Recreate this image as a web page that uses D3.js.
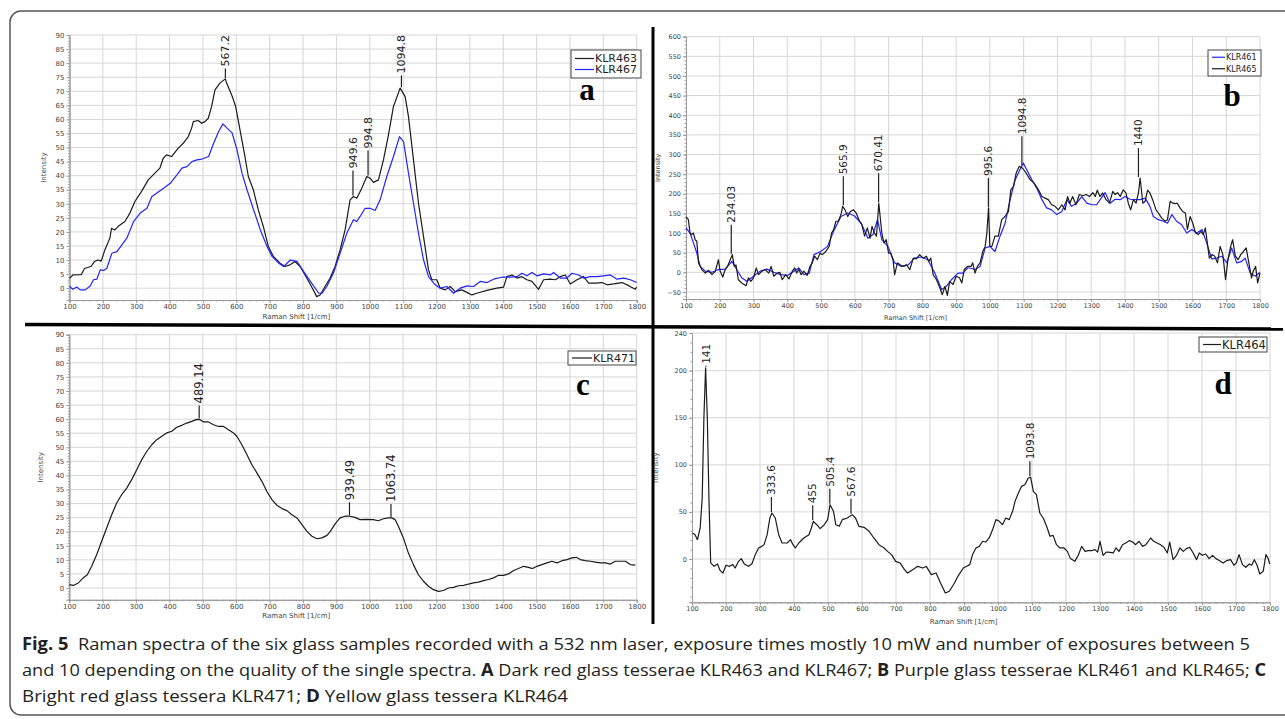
<!DOCTYPE html>
<html>
<head>
<meta charset="utf-8">
<script src="https://cdn.jsdelivr.net/npm/d3@7"></script>
<style>
  body { margin:0; background:#fff; }
  svg { display:block; }
  .tick-lbl { font-family:"DejaVu Sans", sans-serif; fill:#444; }
  .axis-title { font-family:"DejaVu Sans", sans-serif; fill:#444; }
  .peak-lbl { font-family:"DejaVu Sans", sans-serif; fill:#222; }
  .legend-lbl { font-family:"DejaVu Sans", sans-serif; fill:#222; }
  .panel-letter { font-family:"Liberation Serif", "DejaVu Serif", serif; font-weight:bold; fill:#000; }
  .caption { font-family:"Open Sans", "Noto Sans", sans-serif; fill:#231f20; }
</style>
</head>
<body>
<svg id="fig" width="1285" height="719"></svg>
<script>

// ---- data (Raman shift [1/cm], intensity) ----
var klr463 = [[100,3.5],[110,4.7],[135,4.8],[145,7],[165,7.8],[175,9.5],[185,10],[195,9.6],[206,13.6],[221,17.8],[226,21.3],[236,20.7],[246,22],[266,23.7],[281,26.7],[296,30.8],[316,34.4],[336,38.5],[356,40.9],[371,42.7],[381,46.2],[391,47.4],[406,46.8],[426,49.8],[441,51.5],[456,53.9],[466,56.9],[471,59.2],[486,59.6],[496,58.6],[506,59.2],[516,60.4],[526,64.6],[536,70.5],[551,72.9],[567,74.4],[571,72.9],[586,68.7],[598,64.6],[611,56.3],[624,48],[636,39.7],[651,35],[666,27.8],[681,21.9],[696,14.8],[711,11.3],[731,8.9],[746,7.7],[761,8.3],[776,9.5],[791,7.7],[806,4.7],[826,0.4],[841,-3],[851,-2.4],[866,0.6],[881,3.6],[896,7.7],[911,13.6],[926,20.7],[941,31.4],[951,32.6],[961,32],[976,35.5],[991,39.7],[1001,39.1],[1011,37.6],[1026,38.5],[1041,45.6],[1056,54.5],[1071,64.6],[1091,71.1],[1106,68.1],[1116,61],[1131,45.6],[1146,30.2],[1161,18.4],[1176,6.5],[1186,3],[1201,3],[1211,0],[1226,-0.6],[1241,0.6],[1256,-1.2],[1276,-0.6],[1291,-1.5],[1306,-2.4],[1321,-1.8],[1351,-0.8],[1381,0],[1401,0.4],[1411,4.1],[1426,4.7],[1441,3.6],[1456,4.1],[1471,3],[1486,2.4],[1506,-0.4],[1521,3],[1541,3.2],[1556,3],[1571,4.1],[1586,4.7],[1601,1.5],[1621,3],[1641,4.1],[1656,1.8],[1676,1.8],[1696,2],[1711,1.2],[1731,1.5],[1756,2],[1776,0.9],[1796,-0.4],[1800,0.4]];

var klr467 = [[100,0.6],[110,-0.4],[122,0.4],[132,-0.6],[147,-0.6],[162,0.8],[172,3],[182,3.2],[192,6.5],[202,6.3],[212,7.1],[227,12.4],[242,13],[257,15.4],[272,17.8],[292,23.7],[312,26.7],[332,28.4],[347,32.6],[362,33.8],[382,35.5],[402,37.3],[422,40.3],[437,42.7],[452,43.2],[467,45],[482,45.6],[497,45.9],[517,46.8],[532,51.5],[547,55.7],[560,58.4],[572,56.9],[587,55.3],[602,49.2],[617,40.9],[632,35],[652,27.8],[672,20.7],[692,14.8],[707,11.3],[727,8.9],[742,7.7],[762,10],[782,9.5],[802,5.9],[822,2.4],[847,-1.8],[857,-1.8],[871,0.6],[891,5.3],[911,12.4],[931,19.5],[951,24.3],[961,23.7],[971,25.5],[986,28.4],[1001,28.4],[1016,27.6],[1031,31.4],[1051,39.7],[1071,46.8],[1089,53.9],[1101,52.1],[1116,40.9],[1131,30.2],[1146,19.5],[1161,10.1],[1176,4.1],[1196,1.2],[1211,0],[1231,0.6],[1251,-1.8],[1271,0],[1291,0.8],[1311,0.6],[1331,2.4],[1351,2],[1371,3.2],[1396,3.9],[1421,3.9],[1441,4.1],[1456,5.3],[1471,4.4],[1486,5.6],[1501,4.4],[1521,5.1],[1541,4.7],[1551,5.6],[1571,3.6],[1591,3.6],[1606,5.3],[1626,4.7],[1641,3.6],[1661,4.1],[1681,4.1],[1701,4.4],[1721,4.7],[1741,3.2],[1761,3.6],[1781,3],[1800,2]];

var klr461 = [[100,113],[112,100],[122,75],[132,49],[142,15],[157,3],[177,0],[196,7],[216,8],[236,28],[250,7],[265,-14],[280,-23],[300,-10],[320,3],[340,8],[360,0],[380,-6],[400,-8],[420,3],[434,11],[449,-6],[465,-2],[479,45],[499,53],[519,66],[539,108],[559,142],[579,151],[598,144],[619,125],[639,87],[654,96],[667,134],[680,83],[698,66],[718,24],[738,15],[758,19],[777,36],[797,39],[816,32],[837,-2],[857,-44],[871,-36],[886,-19],[906,-2],[920,-2],[934,11],[941,11],[956,7],[971,15],[986,62],[1000,66],[1015,53],[1030,92],[1045,125],[1060,185],[1075,236],[1089,261],[1099,278],[1109,261],[1124,236],[1139,214],[1154,185],[1168,164],[1183,159],[1198,147],[1213,155],[1228,185],[1242,168],[1257,176],[1272,193],[1287,176],[1302,172],[1316,172],[1331,190],[1341,203],[1356,176],[1371,186],[1386,185],[1400,193],[1415,186],[1430,185],[1445,185],[1460,189],[1474,168],[1484,142],[1499,134],[1514,130],[1526,125],[1539,147],[1553,130],[1568,121],[1583,100],[1598,109],[1613,100],[1628,109],[1642,75],[1657,34],[1672,36],[1687,41],[1702,24],[1716,62],[1731,24],[1746,28],[1756,36],[1771,-2],[1786,-10],[1800,0]];

var klr465 = [[100,142],[107,134],[112,100],[117,96],[122,100],[127,83],[132,79],[137,24],[147,7],[157,-2],[167,5],[177,-6],[187,3],[196,32],[201,3],[209,-12],[216,7],[223,15],[231,32],[237,45],[243,15],[248,19],[255,-19],[265,-27],[278,-34],[285,-14],[292,-23],[300,-14],[308,11],[315,-6],[325,3],[335,7],[345,-2],[352,15],[360,-10],[370,-2],[378,0],[385,-19],[395,-6],[405,-17],[415,3],[422,11],[428,-2],[434,8],[441,-6],[449,3],[459,-8],[467,15],[474,24],[481,41],[489,32],[497,49],[504,45],[514,53],[524,66],[531,100],[537,108],[544,130],[551,130],[559,147],[564,168],[571,159],[579,142],[587,155],[596,159],[604,151],[614,130],[621,121],[629,92],[637,113],[645,87],[651,117],[658,100],[664,92],[671,176],[680,100],[686,75],[693,83],[700,49],[706,49],[713,32],[718,-6],[726,24],[734,19],[743,15],[753,19],[763,7],[773,36],[782,34],[792,45],[802,36],[812,41],[819,28],[825,36],[832,-6],[842,-19],[852,-40],[859,-57],[867,-36],[874,-59],[881,-23],[891,-31],[900,-10],[910,-14],[917,-27],[924,7],[934,15],[944,15],[949,24],[956,-2],[963,15],[971,24],[979,53],[986,66],[991,100],[996,164],[1000,66],[1006,66],[1015,92],[1025,92],[1035,134],[1045,142],[1055,155],[1062,210],[1070,219],[1078,253],[1087,270],[1097,265],[1107,253],[1119,236],[1131,227],[1144,210],[1154,193],[1163,189],[1173,185],[1183,172],[1193,168],[1203,159],[1213,172],[1223,159],[1230,193],[1237,176],[1245,193],[1255,172],[1265,198],[1275,195],[1285,198],[1295,193],[1305,203],[1312,193],[1318,209],[1326,193],[1334,202],[1344,185],[1354,176],[1364,206],[1371,198],[1378,203],[1386,193],[1395,210],[1403,202],[1410,176],[1417,159],[1425,185],[1433,176],[1440,202],[1445,240],[1453,176],[1460,181],[1467,209],[1474,202],[1482,185],[1492,159],[1499,151],[1509,138],[1519,130],[1526,134],[1534,181],[1542,176],[1549,175],[1555,176],[1563,164],[1571,155],[1579,151],[1585,109],[1593,142],[1601,125],[1609,100],[1617,96],[1625,104],[1632,96],[1638,113],[1644,75],[1650,36],[1658,45],[1666,41],[1674,24],[1682,66],[1690,45],[1698,-19],[1705,32],[1713,66],[1719,83],[1727,41],[1735,32],[1743,45],[1751,53],[1759,62],[1767,24],[1775,-14],[1780,3],[1787,15],[1793,-27],[1800,-2]];

var klr471 = [[100,1.2],[112,0.9],[127,1.8],[142,3.6],[154,4.7],[167,7.7],[182,11.8],[197,16.6],[212,21.3],[227,26],[242,30.2],[257,33.2],[272,35.5],[287,38.5],[302,42],[317,45.6],[332,48.5],[347,50.9],[362,52.7],[377,53.9],[392,55.1],[407,55.7],[422,57.1],[437,57.8],[452,58.6],[467,59.2],[482,59.9],[492,59.8],[502,59],[517,59],[532,58],[547,57.4],[562,57.4],[577,56.2],[592,55.1],[602,53.9],[617,50.9],[632,47.4],[647,43.8],[662,40.9],[677,37.9],[692,34.3],[707,31.4],[722,29.4],[737,28.2],[752,27.5],[767,26],[782,24.9],[797,22.5],[812,20.1],[827,18.4],[842,17.5],[857,17.8],[872,18.7],[882,20.1],[896,22.7],[911,24.9],[926,25.5],[941,25.5],[956,25.1],[971,24.3],[991,24.4],[1011,24.3],[1026,23.9],[1041,24.6],[1056,24.9],[1066,24.9],[1076,24.3],[1086,21.9],[1101,17.8],[1116,12.4],[1131,8.3],[1146,4.7],[1161,2.4],[1176,0.6],[1191,-0.6],[1206,-1.2],[1221,-0.9],[1236,0],[1251,0.2],[1266,0.8],[1281,0.9],[1296,1.4],[1311,1.8],[1326,2.1],[1341,2.6],[1356,3],[1371,3.6],[1386,4.5],[1401,4.5],[1416,5],[1431,6.2],[1446,6.9],[1461,7.7],[1476,7.3],[1488,6.9],[1501,7.7],[1516,8.3],[1531,8.9],[1546,9.5],[1561,8.9],[1576,9.7],[1591,10.1],[1606,10.7],[1619,10.9],[1631,10.1],[1646,9.7],[1661,9.5],[1676,9.2],[1691,8.9],[1706,8.9],[1721,8.5],[1736,9.5],[1751,9.5],[1766,9.5],[1781,8.3],[1796,8.1]];

var klr464 = [[102,27.6],[109,25.8],[116,20.5],[124,32.9],[130,64.8],[135,150],[140,203],[145,150],[150,61],[155,-4.2],[165,-7.8],[175,-5.3],[183,-12.4],[191,-14.9],[200,-6.7],[210,-7.8],[220,-6],[227,-9.6],[237,-2.5],[245,0.4],[254,-5.3],[266,-7.8],[276,-5.3],[286,4.6],[296,11.7],[305,13.4],[312,15.2],[321,25.8],[329,43.5],[335,48.8],[345,43.5],[355,25.8],[365,17],[380,17],[390,20.5],[397,15.2],[404,11.7],[414,17],[429,22.3],[444,25.8],[451,32.9],[457,40],[467,36.4],[477,32.2],[489,36.4],[499,41.8],[506,57.7],[516,50.6],[523,36.4],[533,34.7],[542,41.8],[557,43.5],[571,47.1],[581,43.5],[591,34.7],[606,33.6],[621,29.4],[635,22.3],[650,15.2],[665,11.7],[675,8.1],[687,4.6],[699,-2.5],[712,-4.2],[725,-11.3],[734,-14.9],[749,-11.3],[764,-7.8],[779,-9.6],[789,-7.8],[804,-16.6],[818,-14.9],[831,-25.5],[845,-36.1],[857,-34.3],[872,-25.5],[882,-18.4],[890,-14],[898,-9.6],[908,-7.8],[917,-6],[925,4.6],[935,11.7],[945,13.4],[955,18.8],[964,18],[974,22.3],[984,31.1],[994,41.8],[1004,40],[1013,36.4],[1023,43.5],[1033,41.8],[1043,50.6],[1050,61.2],[1060,70.1],[1069,77.1],[1079,78.9],[1089,86],[1096,86.7],[1104,71.8],[1113,68.3],[1123,48.8],[1133,43.5],[1143,34.7],[1153,24.1],[1162,25.1],[1172,15.2],[1182,11.7],[1194,11.7],[1204,8.1],[1213,0.4],[1226,-2.5],[1236,3.9],[1246,13.4],[1256,8.1],[1265,8.8],[1275,8.8],[1285,9.9],[1293,7.4],[1300,18.8],[1309,3.9],[1319,7.4],[1329,7.1],[1339,6.4],[1347,11.7],[1356,8.1],[1366,15.2],[1376,17],[1386,19.5],[1396,18],[1405,15.2],[1415,18.8],[1425,13.4],[1435,15.2],[1449,22.3],[1458,18.8],[1468,17],[1478,15.2],[1488,12.4],[1498,6.4],[1505,18],[1515,-0.7],[1525,3.9],[1535,11.7],[1545,8.1],[1554,11],[1564,12.4],[1574,6.4],[1584,-0.7],[1592,6.4],[1601,3.9],[1611,5.3],[1621,0.4],[1631,3.9],[1641,0.4],[1652,-1.8],[1662,-4.2],[1672,-1.8],[1684,-0.7],[1694,-6.7],[1701,-4.2],[1709,4.6],[1719,-6],[1729,-8.8],[1739,-5.3],[1746,-6.7],[1754,-0.7],[1762,-6.7],[1770,-15.9],[1780,-13.1],[1788,4.6],[1794,1.1],[1799,-5.3]];

// peak labels
var peaksA = ['567.2', '949.6', '994.8', '1094.8'];
var peaksB = ['234.03', '565.9', '670.41', '995.6', '1094.8', '1440'];
var peaksC = ['489.14', '939.49', '1063.74'];
var peaksD = ['141', '333.6', '455', '505.4', '567.6', '1093.8'];

// tick values
var xTicks = [100,200,300,400,500,600,700,800,900,1000,1100,1200,1300,1400,1500,1600,1700,1800];
var yTicksAC = [0,5,10,15,20,25,30,35,40,45,50,55,60,65,70,75,80,85,90];
var yTicksB = [-50,0,50,100,150,200,250,300,350,400,450,500,550,600];
var yTicksD = [0,50,100,150,200,240];

var captionLines = [
	[['Fig. 5', true], ['  Raman spectra of the six glass samples recorded with a 532 nm laser, exposure times mostly 10 mW and number of exposures between 5', false]],
	[['and 10 depending on the quality of the single spectra. ', false], ['A', true], [' Dark red glass tesserae KLR463 and KLR467; ', false], ['B', true], [' Purple glass tesserae KLR461 and KLR465; ', false], ['C', true]],
	[['Bright red glass tessera KLR471; ', false], ['D', true], [' Yellow glass tessera KLR464', false]]
];

const strBlack = '#1b1b1b';
const strBlue = '#2323ff';

var sSvg = d3.select('#fig');

// outer frame
sSvg.append('rect')
	.attr('x', 10).attr('y', 11)
	.attr('width', 1290).attr('height', 704)
	.attr('rx', 11)
	.attr('fill', 'none')
	.attr('stroke', '#555')
	.attr('stroke-width', 1.5);

function DrawPanel(aProps)
{
	var scaleX = d3.scaleLinear().domain([100, 1800]).range([aProps.left, aProps.right]);
	var scaleY = d3.scaleLinear().domain(aProps.yDomain).range([aProps.bottom, aProps.top]);

	var sG = sSvg.append('g');

	// grid
	sG.append('g').selectAll('line')
		.data(xTicks.slice(1))
		.enter().append('line')
			.attr('x1', function(d) { return scaleX(d); })
			.attr('x2', function(d) { return scaleX(d); })
			.attr('y1', aProps.top).attr('y2', aProps.bottom)
			.attr('stroke', '#d6d6d6').attr('stroke-width', 1);

	sG.append('g').selectAll('line')
		.data(aProps.yTicks)
		.enter().append('line')
			.attr('x1', aProps.left).attr('x2', aProps.right)
			.attr('y1', function(d) { return scaleY(d); })
			.attr('y2', function(d) { return scaleY(d); })
			.attr('stroke', '#d6d6d6').attr('stroke-width', 1);

	// axes
	var axisY = d3.axisLeft(scaleY)
		.tickValues(aProps.yTicks)
		.tickFormat(d3.format('d'))
		.tickSize(3)
		.tickPadding(2);
	var axisYMinor = d3.axisLeft(scaleY)
		.tickValues(d3.range(Math.ceil(aProps.yDomain[0] / aProps.yMinor) * aProps.yMinor, aProps.yDomain[1] + 0.01, aProps.yMinor))
		.tickSize(1.5)
		.tickFormat('');
	var axisX = d3.axisBottom(scaleX)
		.tickValues(xTicks)
		.tickFormat(d3.format('d'))
		.tickSize(3)
		.tickPadding(1);
	var axisXMinor = d3.axisBottom(scaleX)
		.tickValues(d3.range(100, 1801, 20))
		.tickSize(1.5)
		.tickFormat('');

	[[axisYMinor, 'translate(' + aProps.left + ',0)'], [axisY, 'translate(' + aProps.left + ',0)'],
	 [axisXMinor, 'translate(0,' + aProps.bottom + ')'], [axisX, 'translate(0,' + aProps.bottom + ')']].forEach(function(a)
	{
		var sAxis = sG.append('g').attr('transform', a[1]).call(a[0]);
		sAxis.select('.domain').attr('stroke', '#9a9a9a');
		sAxis.selectAll('.tick line').attr('stroke', '#9a9a9a');
		sAxis.selectAll('.tick text')
			.attr('class', 'tick-lbl')
			.style('font-size', aProps.tickFont + 'px');
	});

	// axis titles
	sG.append('text')
		.attr('class', 'axis-title')
		.attr('transform', 'translate(' + (aProps.left - aProps.yTitleOffset) + ',' + ((aProps.top + aProps.bottom) / 2) + ') rotate(-90)')
		.attr('text-anchor', 'middle')
		.style('font-size', aProps.titleFont + 'px')
		.text('Intensity');

	sG.append('text')
		.attr('class', 'axis-title')
		.attr('x', aProps.left + (aProps.right - aProps.left) * aProps.xTitleFrac)
		.attr('y', aProps.bottom + aProps.xTitleOffset)
		.attr('text-anchor', 'middle')
		.style('font-size', aProps.titleFont + 'px')
		.text('Raman Shift [1/cm]');

	// spectra
	var line = d3.line()
		.x(function(p) { return scaleX(p[0]); })
		.y(function(p) { return scaleY(p[1]); });

	aProps.series.forEach(function(aSeries)
	{
		sG.append('path')
			.datum(aSeries.data)
			.attr('d', line)
			.attr('fill', 'none')
			.attr('stroke', aSeries.color)
			.attr('stroke-width', 1.2)
			.attr('stroke-linejoin', 'round');
	});

	// peak markers
	var aPeakData = aProps.peaks.map(function(strLabel)
	{
		var fShift = +strLabel;
		var fMax = d3.max(aProps.peakSeries.filter(function(p) { return Math.abs(p[0] - fShift) <= 9; }), function(p) { return p[1]; });
		return { label: strLabel, x: scaleX(fShift), y: scaleY(fMax) };
	});

	aPeakData.forEach(function(peak)
	{
		var sText = sG.append('text')
			.attr('class', 'peak-lbl')
			.style('font-size', aProps.peakFont + 'px')
			.attr('text-anchor', 'start')
			.attr('dy', '0.36em')
			.text(peak.label);
		var nLen = sText.node().getComputedTextLength();
		var nStem = aProps.stem;
		if (peak.y - 1 - nStem - 2 - nLen < aProps.labelTop)
		{
			nStem = Math.max(1, peak.y - 1 - 2 - nLen - aProps.labelTop);
		}
		var nTextY = peak.y - 1 - nStem - 2;
		sText.attr('transform', 'translate(' + peak.x + ',' + nTextY + ') rotate(-90)');
		sG.append('line')
			.attr('x1', peak.x).attr('x2', peak.x)
			.attr('y1', peak.y - 1).attr('y2', peak.y - 1 - nStem)
			.attr('stroke', '#222').attr('stroke-width', 1.2);
	});

	// legend
	var lg = aProps.legend;
	sG.append('rect')
		.attr('x', lg.x).attr('y', lg.y)
		.attr('width', lg.w).attr('height', lg.rowH * lg.items.length + lg.pad)
		.attr('fill', '#fff').attr('stroke', '#444').attr('stroke-width', 1);
	lg.items.forEach(function(item, i)
	{
		var nY = lg.y + lg.pad / 2 + lg.rowH * (i + 0.5);
		sG.append('line')
			.attr('x1', lg.x + lg.lineX0).attr('x2', lg.x + lg.lineX1)
			.attr('y1', nY).attr('y2', nY)
			.attr('stroke', item.color).attr('stroke-width', 1.2);
		sG.append('text')
			.attr('class', 'legend-lbl')
			.attr('x', lg.x + lg.lineX1 + 1).attr('y', nY)
			.attr('dy', '0.36em')
			.style('font-size', lg.font + 'px')
			.text(item.name);
	});

	// panel letter
	sG.append('text')
		.attr('class', 'panel-letter')
		.attr('x', aProps.letterX).attr('y', aProps.letterY)
		.attr('text-anchor', 'middle')
		.style('font-size', '31px')
		.text(aProps.letter);
}

DrawPanel({
	left: 69.5, right: 636.7, top: 35, bottom: 300,
	yDomain: [-4.2, 90], yTicks: yTicksAC, yMinor: 1,
	tickFont: 7, titleFont: 7, yTitleOffset: 24, xTitleFrac: 0.4, xTitleOffset: 18.5,
	series: [{ data: klr463, color: strBlack }, { data: klr467, color: strBlue }],
	peaks: peaksA, peakSeries: klr463, peakFont: 11, stem: 25, labelTop: 35,
	legend: { x: 571, y: 50, w: 70, rowH: 11, pad: 6, lineX0: 4, lineX1: 23, font: 11,
		items: [{ name: 'KLR463', color: strBlack }, { name: 'KLR467', color: strBlue }] },
	letter: 'a', letterX: 587, letterY: 100
});

DrawPanel({
	left: 686, right: 1260, top: 36.7, bottom: 299,
	yDomain: [-68, 600], yTicks: yTicksB, yMinor: 10,
	tickFont: 6.5, titleFont: 6.5, yTitleOffset: 26, xTitleFrac: 0.4, xTitleOffset: 21,
	series: [{ data: klr461, color: strBlue }, { data: klr465, color: strBlack }],
	peaks: peaksB, peakSeries: klr465, peakFont: 10.5, stem: 29, labelTop: 36.7,
	legend: { x: 1208, y: 50, w: 53, rowH: 11.5, pad: 3, lineX0: 4, lineX1: 17, font: 8,
		items: [{ name: 'KLR461', color: strBlue }, { name: 'KLR465', color: strBlack }] },
	letter: 'b', letterX: 1232, letterY: 106
});

DrawPanel({
	left: 69.3, right: 636.7, top: 334.7, bottom: 599.8,
	yDomain: [-4.2, 90], yTicks: yTicksAC, yMinor: 1,
	tickFont: 7, titleFont: 7, yTitleOffset: 26, xTitleFrac: 0.4, xTitleOffset: 18.5,
	series: [{ data: klr471, color: strBlack }],
	peaks: peaksC, peakSeries: klr471, peakFont: 11.5, stem: 13, labelTop: 334.7,
	legend: { x: 568, y: 351, w: 68, rowH: 12, pad: 2, lineX0: 4, lineX1: 24, font: 11,
		items: [{ name: 'KLR471', color: strBlack }] },
	letter: 'c', letterX: 583, letterY: 395
});

DrawPanel({
	left: 692, right: 1270, top: 333, bottom: 602.3,
	yDomain: [-46, 240], yTicks: yTicksD, yMinor: 10,
	tickFont: 6.5, titleFont: 7, yTitleOffset: 34, xTitleFrac: 0.47, xTitleOffset: 22,
	series: [{ data: klr464, color: strBlack }],
	peaks: peaksD, peakSeries: klr464, peakFont: 10.5, stem: 15, labelTop: 345,
	legend: { x: 1199, y: 337, w: 68, rowH: 13, pad: 2, lineX0: 4, lineX1: 22, font: 11.5,
		items: [{ name: 'KLR464', color: strBlack }] },
	letter: 'd', letterX: 1223, letterY: 394
});

// dividers
sSvg.append('line')
	.attr('x1', 25).attr('x2', 1283).attr('y1', 324.5).attr('y2', 329)
	.attr('stroke', '#000').attr('stroke-width', 3.5);
sSvg.append('line')
	.attr('x1', 653).attr('x2', 653).attr('y1', 27).attr('y2', 624)
	.attr('stroke', '#000').attr('stroke-width', 3);

// caption
var aCaptionWidths = [1228, 1244, 546];
captionLines.forEach(function(aParts, i)
{
	var sText = sSvg.append('text')
		.attr('class', 'caption')
		.attr('x', 22)
		.attr('y', 650 + i * 26)
		.attr('xml:space', 'preserve')
		.style('font-size', '17px')
		.attr('textLength', aCaptionWidths[i])
		.attr('lengthAdjust', 'spacingAndGlyphs');
	aParts.forEach(function(part)
	{
		sText.append('tspan')
			.style('font-weight', part[1] ? 'bold' : 'normal')
			.text(part[0]);
	});
});

</script>
</body>
</html>
